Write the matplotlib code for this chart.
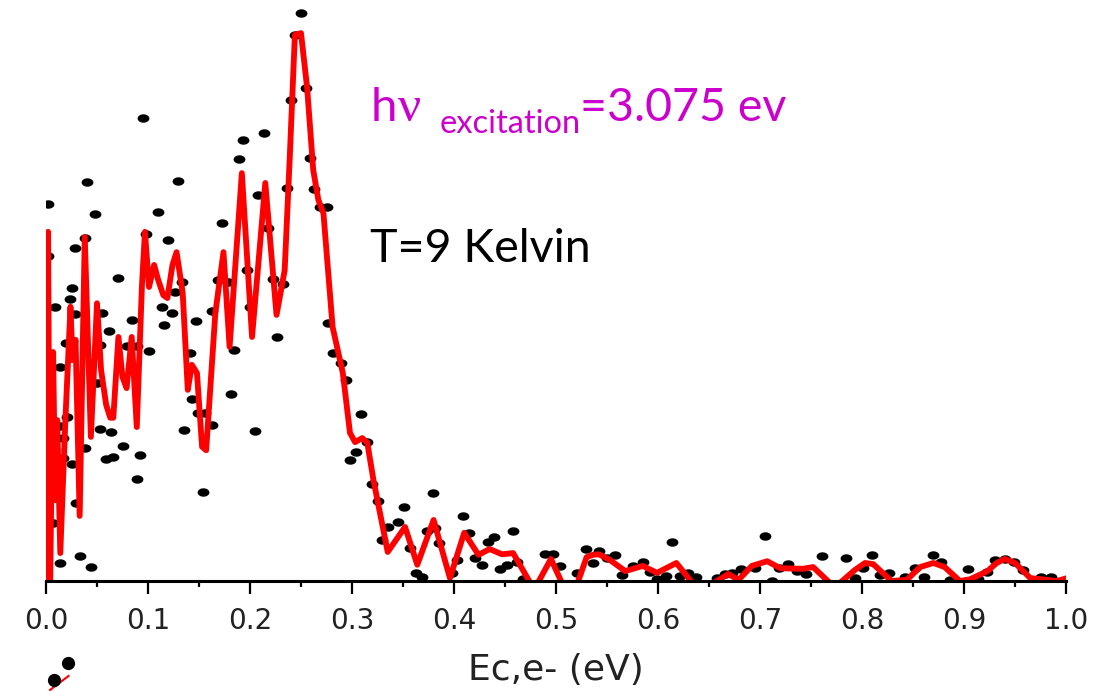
import numpy as np
import matplotlib
matplotlib.use("Agg")
import matplotlib.pyplot as plt
from matplotlib.path import Path
from matplotlib.lines import Line2D
from matplotlib.ticker import MultipleLocator

# Measured photoelectron counts (arbitrary units) vs electron energy (eV)
energy_pts = [
    0.002, 0.002, 0.002, 0.002, 0.007, 0.009, 0.014, 0.014, 0.014, 0.017,
    0.017, 0.021, 0.020, 0.024, 0.025, 0.025, 0.028, 0.028, 0.029, 0.033,
    0.038, 0.038, 0.040, 0.044, 0.048, 0.050, 0.053, 0.053, 0.055, 0.059,
    0.062, 0.064, 0.066, 0.071, 0.075, 0.079, 0.084, 0.089, 0.089, 0.092,
    0.095, 0.098, 0.101, 0.110, 0.114, 0.116, 0.120, 0.124, 0.126, 0.129,
    0.133, 0.135, 0.141, 0.143, 0.147, 0.149, 0.156, 0.154, 0.163, 0.163,
    0.169, 0.173, 0.178, 0.181, 0.184, 0.189, 0.193, 0.197, 0.200, 0.205,
    0.208, 0.214, 0.218, 0.223, 0.226, 0.232, 0.236, 0.240, 0.244, 0.250,
    0.255, 0.259, 0.263, 0.269, 0.275, 0.276, 0.281, 0.289, 0.294, 0.298,
    0.304, 0.309, 0.315, 0.320, 0.325, 0.329, 0.335, 0.345, 0.351, 0.357,
    0.363, 0.369, 0.374, 0.379, 0.381, 0.385, 0.398, 0.403, 0.409, 0.415,
    0.421, 0.427, 0.433, 0.439, 0.445, 0.452, 0.458, 0.462, 0.468, 0.489,
    0.497, 0.504, 0.521, 0.529, 0.536, 0.542, 0.550, 0.558, 0.565, 0.575,
    0.585, 0.592, 0.599, 0.608, 0.614, 0.622, 0.629, 0.637, 0.658, 0.666,
    0.673, 0.681, 0.695, 0.705, 0.712, 0.719, 0.727, 0.736, 0.745, 0.761,
    0.784, 0.793, 0.801, 0.810, 0.818, 0.826, 0.842, 0.852, 0.861, 0.870,
    0.877, 0.886, 0.904, 0.914, 0.923, 0.930, 0.940, 0.949, 0.958, 0.975,
    0.985,
]
counts_pts = [
    64.9, 55.9, 38.7, 30.5, 10.0, 47.2, 36.8, 3.1, 26.7, 24.6,
    21.2, 28.2, 41.0, 48.5, 50.4, 20.1, 57.3, 46.0, 13.4, 4.3,
    59.0, 22.9, 68.7, 2.4, 63.2, 34.1, 40.6, 26.2, 46.1, 21.0,
    43.0, 25.6, 21.3, 52.2, 23.2, 40.4, 44.9, 40.4, 17.6, 21.7,
    79.7, 59.7, 39.6, 63.5, 47.2, 44.1, 58.7, 46.1, 49.7, 68.8,
    51.5, 26.0, 39.2, 31.3, 44.8, 28.9, 28.9, 15.3, 46.5, 26.9,
    51.8, 61.6, 51.5, 32.2, 39.8, 72.6, 75.9, 53.5, 47.2, 25.8,
    66.4, 77.1, 60.8, 52.0, 42.0, 51.1, 67.6, 82.8, 94.0, 97.8,
    84.9, 72.8, 67.5, 64.4, 64.4, 44.4, 39.2, 37.5, 34.6, 20.8,
    22.2, 28.7, 23.9, 16.7, 13.8, 7.1, 9.3, 10.2, 12.7, 5.7,
    1.4, 0.7, 8.6, 15.1, 9.1, 6.5, 1.4, 3.6, 11.2, 8.3,
    4.0, 2.8, 6.7, 7.6, 2.1, 2.8, 8.6, 3.3, 0.3, 4.6,
    4.6, 2.6, 1.4, 5.5, 3.1, 5.2, 4.0, 4.5, 1.0, 2.6,
    3.3, 1.5, 0.3, 0.9, 6.7, 0.9, 1.4, 0.7, 0.5, 1.2,
    1.4, 2.1, 2.2, 7.7, 0.0, 2.2, 2.9, 1.7, 1.2, 4.3,
    4.0, 0.5, 2.2, 4.5, 1.0, 1.4, 0.7, 2.2, 0.7, 4.5,
    3.3, 0.2, 2.1, 0.3, 1.5, 3.6, 3.8, 3.3, 1.9, 0.7,
    0.7,
]

# Smoothed spectrum
energy_fit = [
    0.000, 0.000, 0.001, 0.002, 0.004, 0.007, 0.009, 0.011, 0.014, 0.019,
    0.024, 0.026, 0.029, 0.033, 0.038, 0.044, 0.050, 0.054, 0.059, 0.063,
    0.066, 0.071, 0.075, 0.079, 0.084, 0.089, 0.094, 0.097, 0.101, 0.106,
    0.110, 0.115, 0.119, 0.124, 0.128, 0.134, 0.139, 0.143, 0.148, 0.153,
    0.157, 0.166, 0.174, 0.180, 0.192, 0.202, 0.215, 0.226, 0.234, 0.239,
    0.244, 0.250, 0.256, 0.262, 0.267, 0.272, 0.281, 0.291, 0.298, 0.303,
    0.310, 0.315, 0.321, 0.335, 0.352, 0.364, 0.380, 0.396, 0.410, 0.424,
    0.435, 0.447, 0.458, 0.475, 0.482, 0.495, 0.506, 0.521, 0.530, 0.536,
    0.542, 0.553, 0.568, 0.585, 0.599, 0.618, 0.634, 0.654, 0.669, 0.679,
    0.692, 0.707, 0.720, 0.742, 0.752, 0.769, 0.778, 0.793, 0.803, 0.811,
    0.829, 0.844, 0.857, 0.870, 0.881, 0.896, 0.906, 0.923, 0.932, 0.940,
    0.950, 0.965, 0.991, 1.001,
]
counts_fit = [
    0.0, 26.3, 1.0, 60.1, -1.5, 39.4, 13.9, 27.7, 4.8, 27.7,
    47.2, 38.0, 41.5, 11.2, 59.2, 24.8, 47.8, 36.3, 30.3, 28.1,
    28.1, 42.0, 35.1, 33.2, 42.0, 26.5, 50.6, 60.1, 50.6, 54.4,
    51.8, 49.2, 48.7, 54.4, 56.6, 49.6, 32.9, 37.2, 35.8, 23.1,
    22.5, 46.1, 56.6, 40.3, 70.2, 42.0, 68.5, 45.8, 53.5, 73.0,
    94.0, 94.3, 84.9, 70.7, 65.6, 63.3, 43.7, 35.8, 25.5, 23.9,
    24.6, 23.8, 17.4, 5.0, 9.3, 2.8, 10.5, 0.5, 8.3, 4.5,
    5.5, 4.6, 4.8, -0.4, -0.4, 3.8, -0.4, -0.4, 4.1, 4.5,
    4.6, 3.6, 1.7, 2.6, 1.4, 3.1, -0.4, -0.4, 1.2, 0.2,
    2.6, 3.4, 2.2, 2.1, 2.4, -0.4, -0.4, 1.9, 3.1, 2.9,
    0.0, 0.2, 2.4, 3.1, 2.4, 0.0, 0.3, 1.7, 3.1, 3.8,
    3.1, 0.5, 0.0, 0.5,
]

xticks = [0.0, 0.1, 0.2, 0.3, 0.4, 0.5, 0.6, 0.7, 0.8, 0.9, 1.0]
xtick_labels = ["0.0", "0.1", "0.2", "0.3", "0.4", "0.5", "0.6", "0.7", "0.8", "0.9", "1.0"]

W, H = 1113, 691
fig = plt.figure(figsize=(W / 100, H / 100), dpi=100)
fig.patch.set_facecolor("white")


def fx(px):
    return px / W


def fy(py):
    return 1 - py / H


ax = fig.add_axes([fx(46), fy(581), 1020 / W, 581 / H])
ax.set_xlim(0, 1.0)
ax.set_ylim(0, 100)

# wide oval dots
t = np.linspace(0, 2 * np.pi, 64)
dot = Path(np.column_stack([1.4 * np.cos(t), np.sin(t)]), closed=True)

ax.scatter(energy_pts, counts_pts, marker=dot, s=72, color="black",
           linewidths=0, zorder=2)
ax.plot(energy_fit, counts_fit, color="#ff0000", lw=4.2,
        solid_joinstyle="round", solid_capstyle="round", zorder=3)

for side in ("left", "top", "right"):
    ax.spines[side].set_visible(False)
ax.spines["bottom"].set_linewidth(2.2)
ax.spines["bottom"].set_zorder(5)
ax.set_yticks([])

ax.set_xticks(xticks)
ax.set_xticklabels(xtick_labels)
ax.xaxis.set_minor_locator(MultipleLocator(0.05))
ax.tick_params(axis="x", which="major", direction="out", length=9, width=1.6,
               pad=10, labelsize=20, labelcolor="#222222")
ax.tick_params(axis="x", which="minor", direction="out", length=4.5, width=1.6)
for lab in ax.get_xticklabels():
    lab.set_family("DejaVu Sans")

fig.text(fx(556), fy(680), "Ec,e- (eV)", ha="center", va="baseline",
         fontsize=26, family="DejaVu Sans", color="#222222")

# annotation text
mag = "#cc00cc"
fig.text(fx(371), fy(121), "h", ha="left", va="baseline", fontsize=34,
         family="Lato", color=mag)
fig.text(fx(398), fy(121), "\u03bd", ha="left", va="baseline", fontsize=37,
         family="Liberation Serif", color=mag)
fig.text(fx(440), fy(133), "excitation", ha="left", va="baseline", fontsize=23.5,
         family="Lato", color=mag)
fig.text(fx(580), fy(121), "=3.075 ev", ha="left", va="baseline", fontsize=33.5,
         family="Lato", color=mag)
fig.text(fx(370), fy(262), "T=9 Kelvin", ha="left", va="baseline", fontsize=33.5,
         family="Lato", color="black")

# legend symbols below the axis
fig.add_artist(Line2D([fx(50), fx(68.5)], [fy(690), fy(676)],
                      transform=fig.transFigure, color="#ff0000", lw=1.5))
fig.add_artist(Line2D([fx(54), fx(68.3)], [fy(679.5), fy(662.7)],
                      transform=fig.transFigure, ls="none", marker="o",
                      markersize=8.5, color="black"))

fig.savefig("out.png", dpi=100, facecolor="white")
